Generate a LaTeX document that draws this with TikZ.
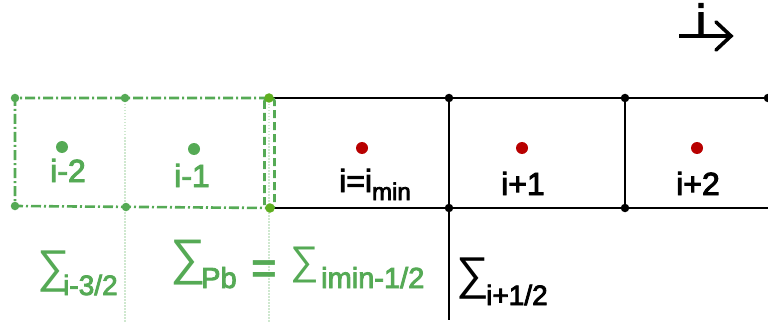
\documentclass[tikz,border=0pt]{standalone}
\usepackage{fontspec}
\setmainfont[FakeBold=3]{Liberation Sans}
\newfontfamily\sigfont{Liberation Sans}
\newfontfamily\eqfont{Liberation Sans Bold}
\usetikzlibrary{arrows.meta}
\definecolor{grn}{HTML}{55AA55}
\definecolor{grnlt}{HTML}{CFE8CF}
\definecolor{grndot}{HTML}{5FAF20}
\definecolor{rd}{HTML}{B80000}
\tikzset{
  blk/.style={line width=2.8pt, black},
  gdd/.style={line width=2.6pt, grn, dash pattern=on 10pt off 3pt on 2pt off 3pt},
  gdash/.style={line width=2.6pt, grn, dash pattern=on 8pt off 4pt, rounded corners=3pt},
  gdot/.style={line width=1.4pt, grnlt, dash pattern=on 1.5pt off 1.5pt},
  bdot/.style={circle, fill=black, inner sep=0pt, minimum size=8.5pt},
  gcdot/.style={circle, fill=grn, inner sep=0pt, minimum size=8.5pt},
  cdot/.style={circle, inner sep=0pt, minimum size=12pt},
  lbl/.style={inner sep=0pt, font=\fontsize{32}{32}\selectfont},
  glbl/.style={lbl, text=grn},
  sig/.style={inner sep=0pt, font=\sigfont\fontsize{46}{46}\selectfont},
  sub/.style={inner sep=0pt, font=\fontsize{28}{28}\selectfont},
}
\begin{document}
\begin{tikzpicture}[x=1pt,y=-1pt]
\useasboundingbox (0,0) rectangle (768,326);
% grid coordinates
\coordinate (t0) at (15,98);  \coordinate (b0) at (15,206);
\coordinate (t1) at (125,98); \coordinate (b1) at (126,207);
\coordinate (t2) at (269,98); \coordinate (b2) at (270,208);
\coordinate (t3) at (449,98); \coordinate (b3) at (449,208);
\coordinate (t4) at (625,98); \coordinate (b4) at (625,208);
\coordinate (t5) at (768,98); \coordinate (b5) at (768,208);
\coordinate (e1) at (125,322);
\coordinate (e2) at (269,322);
\coordinate (e3) at (449,320);
% light dotted lines
\draw[gdot] (t1) -- (e1);
\draw[gdot] (t2) -- (e2);
% black grid
\draw[blk] (t2) -- (t5);
\draw[blk] (b2) -- (b5);
\draw[blk] (t3) -- (e3);
\draw[blk] (t4) -- (b4);
% green dash-dot ghost cells
\draw[gdd] (t2) -- (t0) -- (b0) -- (b2);
% green dashed boundary box
\draw[gdash] (264.5,98) rectangle (274.5,208);
% node dots
\node[bdot] (d3) at (t3) {};
\node[bdot] (d4) at (t4) {};
\node[bdot] (d5) at (t5) {};
\node[bdot] (e3d) at (b3) {};
\node[bdot] (e4d) at (b4) {};
\node[gcdot] (g0) at (t0) {};
\node[gcdot] (g1) at (t1) {};
\node[gcdot] (g0b) at (b0) {};
\node[gcdot] (g1b) at (b1) {};
\node[circle, fill=grndot, inner sep=0pt, minimum size=9.5pt] (g2) at (t2) {};
\node[circle, fill=grndot, inner sep=0pt, minimum size=9.5pt] (g2b) at (b2) {};
% cell centres
\node[cdot, fill=grn] (c0) at (62,147) {};
\node[cdot, fill=grn] (c1) at (194,149) {};
\node[cdot, fill=rd] (c2) at (362,148) {};
\node[cdot, fill=rd] (c3) at (522,148) {};
\node[cdot, fill=rd] (c4) at (697,148) {};
% cell labels
\node[glbl, anchor=base] (l0) at (68,182) {i-2};
\node[glbl, anchor=base] (l1) at (192,187) {i-1};
\node[lbl, anchor=base west] (l2) at (339,192) {i=i\raisebox{-8pt}{\fontsize{24}{24}\selectfont min}};
\node[lbl, anchor=base] (l3) at (523,195) {i+1};
\node[lbl, anchor=base] (l4) at (698,195) {i+2};
% sums
\node[sig, text=grn, anchor=base west] (s0) at (37,282) {∑};
\node[sub, text=grn, anchor=base west] (s0s) at (63,295) {i-3/2};
\node[sig, text=grn, anchor=base west, font=\sigfont\fontsize{50}{50}\selectfont] (s1) at (170,274) {∑};
\node[sub, text=grn, anchor=base west, font=\fontsize{29}{29}\selectfont] (s1s) at (201,288) {Pb};
\node[inner sep=0pt, text=grn, font=\eqfont\fontsize{44}{44}\selectfont, anchor=base] (eq) at (264,283) {=};
\node[sig, text=grn, anchor=base west, font=\sigfont\fontsize{40}{40}\selectfont] (s2) at (290,274) {∑};
\node[sub, text=grn, anchor=base west, font=\fontsize{29}{29}\selectfont] (s2s) at (321,288) {imin-1/2};
\node[sig, anchor=base west] (s3) at (456,289) {∑};
\node[sub, anchor=base west] (s3s) at (486,305) {i+1/2};
% direction arrow
\coordinate (a0) at (679,36);
\coordinate (a1) at (731,36);
\coordinate (h1) at (716,22);
\coordinate (h2) at (716,50);
\draw[line width=3.2pt] (a0) -- (a1);
\draw[line width=3.6pt, line join=miter, line cap=round] (h1) -- (a1) -- (h2);
\node[inner sep=0pt, anchor=base, font=\fontsize{46}{46}\selectfont] (iv) at (701,37) {i};
\end{tikzpicture}
\end{document}
